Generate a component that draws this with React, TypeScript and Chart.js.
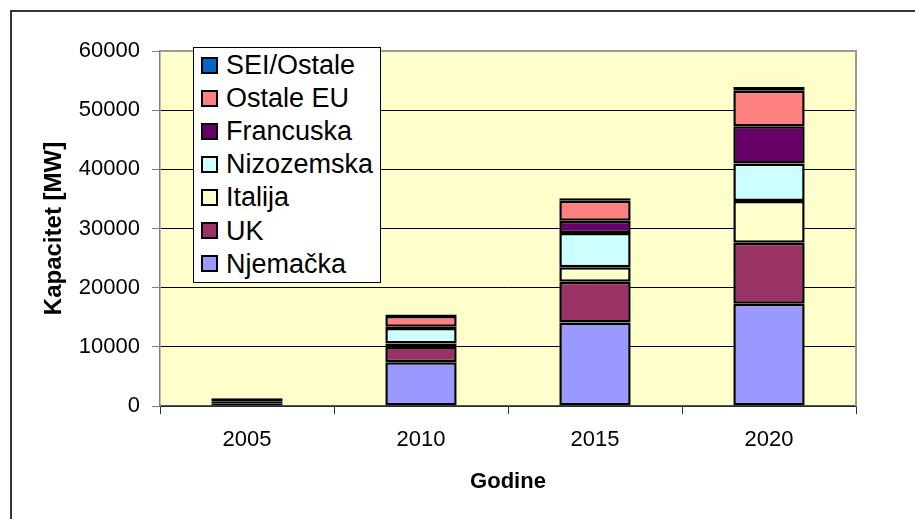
import React, { useEffect, useRef } from 'react';
import { Chart, registerables } from 'chart.js';

Chart.register(...registerables);

const categories = ['2005', '2010', '2015', '2020'];
const njemacka = [150, 7400, 14100, 17300];
const uk = [300, 2650, 6900, 10300];
const italija = [50, 500, 2450, 7050];
const nizozemska = [300, 2650, 5800, 6350];
const francuska = [50, 200, 2050, 6300];
const ostaleEU = [150, 1800, 3400, 6000];
const seiOstale = [300, 250, 400, 600];
const yTicks = [0, 10000, 20000, 30000, 40000, 50000, 60000];

const seriesNames = ['Njemačka', 'UK', 'Italija', 'Nizozemska', 'Francuska', 'Ostale EU', 'SEI/Ostale'];
const seriesValues = [njemacka, uk, italija, nizozemska, francuska, ostaleEU, seiOstale];
const seriesColors = ['#9999FF', '#993366', '#FFFFCC', '#CCFFFF', '#660066', '#FF8080', '#0066CC'];

const FONT = "'Liberation Sans', Arial, sans-serif";

const framePlugin = {
  id: 'framePlugin',
  beforeDraw(chart: any) {
    const { ctx, chartArea } = chart;
    ctx.save();
    ctx.fillStyle = '#FFFFFF';
    ctx.fillRect(0, 0, chart.width, chart.height);
    ctx.fillStyle = '#FFFFCC';
    ctx.fillRect(chartArea.left, chartArea.top, chartArea.right - chartArea.left, chartArea.bottom - chartArea.top);
    ctx.strokeStyle = '#333333';
    ctx.lineWidth = 2;
    ctx.beginPath();
    ctx.moveTo(11, chart.height + 5);
    ctx.lineTo(11, 11);
    ctx.lineTo(chart.width + 5, 11);
    ctx.stroke();
    ctx.restore();
  },
  afterDatasetsDraw(chart: any) {
    const { ctx, chartArea } = chart;
    ctx.save();
    ctx.strokeStyle = '#999999';
    ctx.lineWidth = 2;
    ctx.beginPath();
    ctx.moveTo(chartArea.left, chartArea.top);
    ctx.lineTo(chartArea.right, chartArea.top);
    ctx.lineTo(chartArea.right, chartArea.bottom);
    ctx.stroke();
    ctx.restore();
  },
};

export default function App() {
  const canvasRef = useRef<HTMLCanvasElement | null>(null);

  useEffect(() => {
    document.body.style.margin = '0';
    const canvas = canvasRef.current;
    if (!canvas) return;
    const chart = new Chart(canvas, {
      type: 'bar',
      data: {
        labels: categories,
        datasets: seriesNames.map((name, i) => ({
          label: name,
          data: seriesValues[i],
          backgroundColor: seriesColors[i],
          borderColor: '#000000',
          borderWidth: 2.5,
          borderSkipped: false,
          categoryPercentage: 1,
          barPercentage: 0.41,
        })),
      },
      options: {
        animation: false,
        responsive: false,
        maintainAspectRatio: false,
        layout: { padding: { left: 0, top: 51, right: 59, bottom: 0 } },
        plugins: {
          legend: { display: false },
          tooltip: { enabled: false },
        },
        scales: {
          x: {
            stacked: true,
            grid: { offset: true, drawOnChartArea: false, drawTicks: true, tickLength: 8, tickColor: '#333333' },
            border: { display: true, color: '#555555', width: 1.5 },
            ticks: { color: '#000000', font: { family: FONT, size: 22 }, padding: 13 },
            title: {
              display: true,
              text: 'Godine',
              color: '#000000',
              font: { family: FONT, size: 22, weight: 'bold' },
              padding: { top: 0, bottom: 24 },
            },
            afterFit: (s: any) => {
              s.height = 113;
            },
          },
          y: {
            stacked: true,
            min: 0,
            max: 60000,
            afterBuildTicks: (s: any) => {
              s.ticks = yTicks.map((v) => ({ value: v }));
            },
            ticks: {
              color: '#000000',
              font: { family: FONT, size: 22 },
              padding: 12,
              callback: (v: any) => String(v),
            },
            grid: { color: '#000000', tickColor: '#808080', tickLength: 8, lineWidth: 1 },
            border: { display: true, color: '#808080', width: 1.5 },
            title: {
              display: true,
              text: 'Kapacitet [MW]',
              color: '#000000',
              font: { family: FONT, size: 24, weight: 'bold' },
              padding: { top: 40, bottom: 0 },
            },
            afterFit: (s: any) => {
              s.width = 160;
            },
          },
        },
      },
      plugins: [framePlugin],
    } as any);
    return () => chart.destroy();
  }, []);

  const legendItems = seriesNames.map((n, i) => ({ name: n, color: seriesColors[i] })).reverse();

  return (
    <div style={{ position: 'relative', width: 915, height: 519, overflow: 'hidden', background: '#fff' }}>
      <canvas ref={canvasRef} width={915} height={519} style={{ display: 'block', width: 915, height: 519 }} />
      <div
        style={{
          position: 'absolute',
          left: 193,
          top: 47,
          width: 188,
          height: 236,
          boxSizing: 'border-box',
          border: '1px solid #000',
          background: '#fff',
          fontFamily: FONT,
        }}
      >
        {legendItems.map((it, i) => (
          <div
            key={it.name}
            style={{ position: 'absolute', left: 0, top: 17 + i * 33.1 - 16, height: 32, width: '100%' }}
          >
            <div
              style={{
                position: 'absolute',
                left: 7,
                top: 7.5,
                width: 17,
                height: 17,
                boxSizing: 'border-box',
                border: '2px solid #000',
                background: it.color,
              }}
            />
            <div
              style={{
                position: 'absolute',
                left: 32,
                top: 0,
                height: 32,
                lineHeight: '32px',
                fontSize: 27,
                color: '#000',
                whiteSpace: 'nowrap',
              }}
            >
              {it.name}
            </div>
          </div>
        ))}
      </div>
    </div>
  );
}
